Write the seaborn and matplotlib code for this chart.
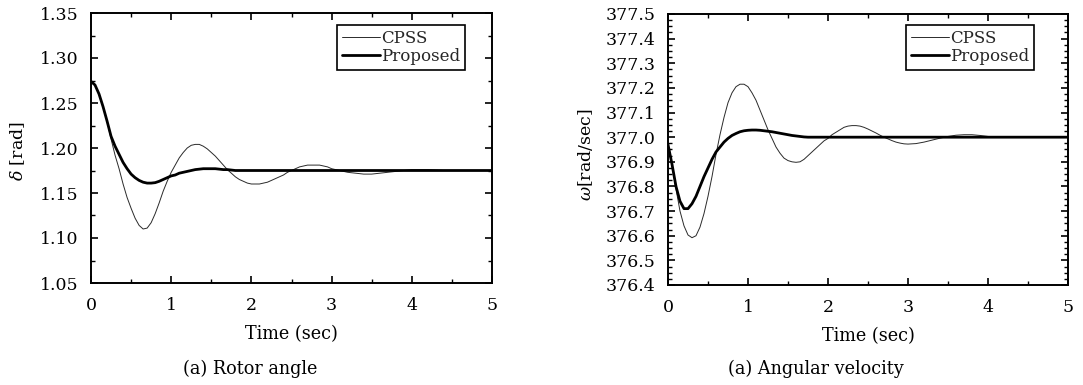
import numpy as np
import pandas as pd
import matplotlib
matplotlib.use("Agg")
import matplotlib.pyplot as plt
from matplotlib.ticker import MultipleLocator, FormatStrFormatter
import seaborn as sns

# ---------------- data ----------------
time = [0.00, 0.05, 0.10, 0.15, 0.20, 0.25, 0.30, 0.35, 0.40, 0.45,
        0.50, 0.55, 0.60, 0.65, 0.70, 0.75, 0.80, 0.85, 0.90, 0.95,
        1.00, 1.05, 1.10, 1.15, 1.20, 1.25, 1.30, 1.35, 1.40, 1.45,
        1.50, 1.55, 1.60, 1.65, 1.70, 1.75, 1.80, 1.85, 1.90, 1.95,
        2.00, 2.05, 2.10, 2.15, 2.20, 2.25, 2.30, 2.35, 2.40, 2.45,
        2.50, 2.55, 2.60, 2.65, 2.70, 2.75, 2.80, 2.85, 2.90, 2.95,
        3.00, 3.10, 3.20, 3.30, 3.40, 3.50, 3.60, 3.70, 3.80, 3.90,
        4.00, 4.10, 4.20, 4.30, 4.40, 4.50, 4.60, 4.70, 4.80, 4.90, 5.00]

delta_cpss = [1.274, 1.270, 1.260, 1.246, 1.230, 1.210, 1.192, 1.177, 1.160, 1.145,
              1.133, 1.122, 1.114, 1.110, 1.111, 1.117, 1.127, 1.139, 1.152, 1.163,
              1.173, 1.181, 1.189, 1.195, 1.200, 1.203, 1.204, 1.204, 1.202, 1.199,
              1.195, 1.191, 1.186, 1.181, 1.176, 1.172, 1.168, 1.165, 1.163, 1.161,
              1.160, 1.160, 1.160, 1.161, 1.162, 1.164, 1.166, 1.168, 1.170, 1.173,
              1.175, 1.177, 1.179, 1.180, 1.181, 1.181, 1.181, 1.181, 1.180, 1.179,
              1.177, 1.175, 1.173, 1.172, 1.171, 1.171, 1.172, 1.173, 1.174, 1.175,
              1.176, 1.176, 1.176, 1.1755, 1.175, 1.175, 1.175, 1.175, 1.175, 1.175, 1.175]

delta_prop = [1.274, 1.270, 1.260, 1.246, 1.230, 1.213, 1.202, 1.193, 1.184, 1.177,
              1.171, 1.167, 1.164, 1.162, 1.161, 1.161, 1.1615, 1.163, 1.165, 1.167,
              1.169, 1.170, 1.172, 1.173, 1.174, 1.175, 1.176, 1.1765, 1.177, 1.177,
              1.177, 1.177, 1.1765, 1.176, 1.176, 1.1755, 1.175, 1.175, 1.175, 1.175,
              1.175, 1.175, 1.175, 1.175, 1.175, 1.175, 1.175, 1.175, 1.175, 1.175,
              1.175, 1.175, 1.175, 1.175, 1.175, 1.175, 1.175, 1.175, 1.175, 1.175,
              1.175, 1.175, 1.175, 1.175, 1.175, 1.175, 1.175, 1.175, 1.175, 1.175,
              1.175, 1.175, 1.175, 1.175, 1.175, 1.175, 1.175, 1.175, 1.175, 1.175, 1.175]

omega_cpss = [376.970, 376.890, 376.790, 376.700, 376.640, 376.603, 376.592, 376.600, 376.635, 376.690,
              376.760, 376.840, 376.930, 377.010, 377.080, 377.140, 377.180, 377.205, 377.215, 377.215,
              377.205, 377.180, 377.150, 377.110, 377.070, 377.030, 376.995, 376.960, 376.935, 376.915,
              376.905, 376.900, 376.898, 376.900, 376.910, 376.925, 376.940, 376.955, 376.970, 376.985,
              376.995, 377.010, 377.020, 377.030, 377.040, 377.045, 377.047, 377.047, 377.045, 377.040,
              377.033, 377.025, 377.017, 377.008, 377.000, 376.993, 376.986, 376.980, 376.976, 376.973,
              376.972, 376.974, 376.980, 376.988, 376.996, 377.003, 377.008, 377.010, 377.010, 377.007,
              377.003, 377.000, 376.999, 377.000, 377.000, 377.000, 377.000, 377.000, 377.000, 377.000, 377.000]

omega_prop = [376.970, 376.890, 376.800, 376.740, 376.710, 376.710, 376.730, 376.760, 376.800, 376.840,
              376.875, 376.910, 376.940, 376.960, 376.980, 376.995, 377.007, 377.015, 377.022, 377.026,
              377.028, 377.029, 377.029, 377.028, 377.026, 377.024, 377.022, 377.019, 377.016, 377.013,
              377.010, 377.007, 377.005, 377.003, 377.001, 377.000, 377.000, 377.000, 377.000, 377.000,
              377.000, 377.000, 377.000, 377.000, 377.000, 377.000, 377.000, 377.000, 377.000, 377.000,
              377.000, 377.000, 377.000, 377.000, 377.000, 377.000, 377.000, 377.000, 377.000, 377.000,
              377.000, 377.000, 377.000, 377.000, 377.000, 377.000, 377.000, 377.000, 377.000, 377.000,
              377.000, 377.000, 377.000, 377.000, 377.000, 377.000, 377.000, 377.000, 377.000, 377.000, 377.000]

series_names = ["CPSS", "Proposed"]
x_label = "Time (sec)"
y_labels = [r"$\delta$ [rad]", r"$\omega$[rad/sec]"]
captions = ["(a) Rotor angle", "(a) Angular velocity"]

# ---------------- style ----------------
sns.set_theme(style="ticks")
plt.rcParams["font.family"] = ["DejaVu Serif"]
plt.rcParams["mathtext.fontset"] = "dejavuserif"

fig = plt.figure(figsize=(10.83, 3.85), dpi=100)
axL = fig.add_axes([91 / 1083, 1 - 283 / 385, 401 / 1083, 270 / 385])
axR = fig.add_axes([668 / 1083, 1 - 285 / 385, 400 / 1083, 271 / 385])

df = pd.DataFrame({"t": time, "dc": delta_cpss, "dp": delta_prop,
                   "wc": omega_cpss, "wp": omega_prop})

thin = dict(color="#2a2a2a", linewidth=0.7)
thick = dict(color="black", linewidth=2.0)

sns.lineplot(data=df, x="t", y="dc", ax=axL, label=series_names[0], **thin)
sns.lineplot(data=df, x="t", y="dp", ax=axL, label=series_names[1], **thick)
sns.lineplot(data=df, x="t", y="wc", ax=axR, label=series_names[0], **thin)
sns.lineplot(data=df, x="t", y="wp", ax=axR, label=series_names[1], **thick)

def style_axis(ax, ylim, ymaj, ymin, fmt, ylabel, legend_anchor, ylab_xy):
    ax.set_xlim(0, 5)
    ax.set_ylim(*ylim)
    ax.xaxis.set_major_locator(MultipleLocator(1))
    ax.xaxis.set_minor_locator(MultipleLocator(0.5))
    ax.yaxis.set_major_locator(MultipleLocator(ymaj))
    ax.yaxis.set_minor_locator(MultipleLocator(ymin))
    ax.yaxis.set_major_formatter(FormatStrFormatter(fmt))
    ax.tick_params(which="both", direction="in", top=True, right=True,
                   colors="black", labelsize=12.5)
    ax.tick_params(which="major", length=5, width=1.2)
    ax.tick_params(which="minor", length=3, width=1.0)
    ax.tick_params(axis="x", which="major", pad=10)
    ax.tick_params(axis="y", which="major", pad=9)
    for s in ax.spines.values():
        s.set_visible(True)
        s.set_color("black")
        s.set_linewidth(1.4)
    ax.set_xlabel(x_label, fontsize=12.7, color="black", labelpad=8)
    ax.set_ylabel(ylabel, fontsize=12.5, color="black")
    ax.yaxis.set_label_coords(*ylab_xy)
    leg = ax.legend(loc="upper right", bbox_to_anchor=legend_anchor,
                    borderaxespad=0, fancybox=False, frameon=True,
                    edgecolor="black", fontsize=12, handlelength=2.3,
                    handletextpad=0.05, labelspacing=0.05, borderpad=0.3)
    leg.get_frame().set_linewidth(1.2)
    leg.get_frame().set_alpha(1)

style_axis(axL, (1.05, 1.35), 0.05, 0.025, "%.2f", y_labels[0],
           (0.933, 0.956), (-0.16, 0.49))
style_axis(axR, (376.4, 377.5), 0.1, 0.025, "%.1f", y_labels[1],
           (0.915, 0.959), (-0.183, 0.48))

fig.text(250 / 1083, 1 - 369 / 385, captions[0], ha="center", va="center",
         fontsize=12.7, color="black")
fig.text(816 / 1083, 1 - 369 / 385, captions[1], ha="center", va="center",
         fontsize=12.7, color="black")

fig.savefig("out.png", dpi=100, facecolor="white")
